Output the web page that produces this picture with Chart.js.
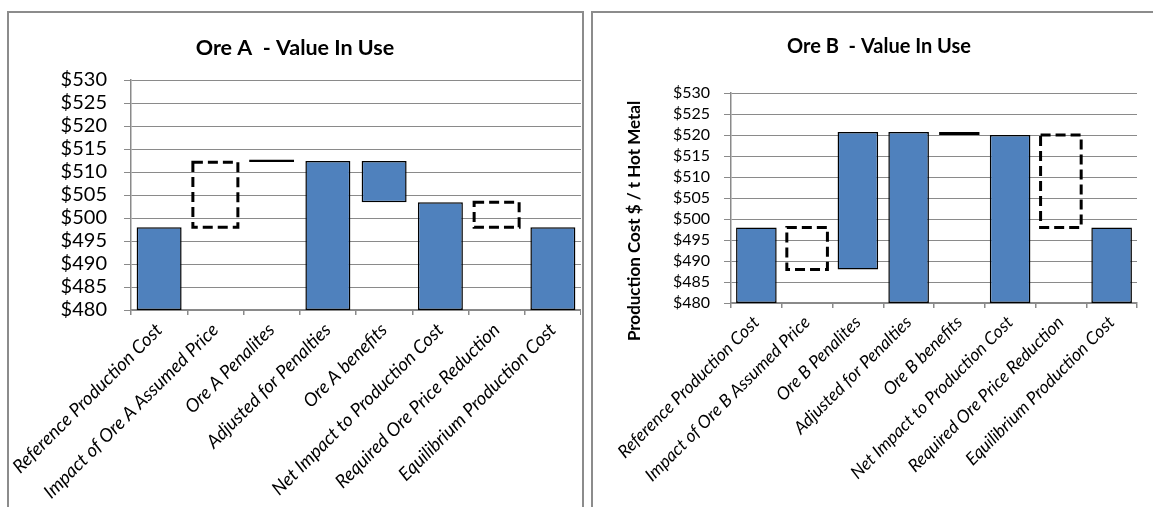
<!DOCTYPE html>
<html>
<head>
<meta charset="utf-8">
<script src="https://cdn.jsdelivr.net/npm/chart.js@4.4.1/dist/chart.umd.min.js"></script>
<style>
  html, body { margin:0; padding:0; background:#fff; overflow:hidden; }
  body { width:1153px; height:507px; position:relative; font-family:Lato, sans-serif; }
  .panel { position:absolute; top:11px; height:520px; border:2px solid #8c8c8c; box-sizing:border-box; }
  canvas { position:absolute; top:13px; }
</style>
</head>
<body>
<div class="panel" style="left:7px;width:577px"></div>
<div class="panel" style="left:591px;width:600px"></div>
<canvas id="chart-a" width="572" height="494" style="left:9px"></canvas>
<canvas id="chart-b" width="560" height="494" style="left:593px"></canvas>
<script>
// Categories
var labelsA = ['Reference Production Cost', 'Impact of Ore A Assumed Price', 'Ore A Penalites',
  'Adjusted for Penalties', 'Ore A benefits', 'Net Impact to Production Cost',
  'Required Ore Price Reduction', 'Equilibrium Production Cost'];
var labelsB = ['Reference Production Cost', 'Impact of Ore B Assumed Price', 'Ore B Penalites',
  'Adjusted for Penalties', 'Ore B benefits', 'Net Impact to Production Cost',
  'Required Ore Price Reduction', 'Equilibrium Production Cost'];

// Floating bars [low, high] ($ / t hot metal)
var solidA  = [[480, 498], null, [512.2, 512.7], [480, 512.4], [503.4, 512.4], [480, 503.4], null, [480, 498]];
var dashedA = [null, [498, 512.1], null, null, null, null, [498, 503.4], null];
var solidB  = [[480, 498], null, [488, 520.7], [480, 520.7], [520, 520.7], [480, 520], null, [480, 498]];
var dashedB = [null, [488, 498], null, null, null, null, [498, 520], null];

// Value axis
var yMin = 480, yMax = 530, yStep = 5;

var GRID = '#8a8a8a';
var BAR  = '#4F81BD';

// bar elements fill their borders, so the dashed boxes are stroked here
var dashedBoxes = {
  id: 'dashedBoxes',
  afterDatasetsDraw: function (chart) {
    var ctx = chart.ctx;
    chart.data.datasets.forEach(function (ds, i) {
      if (!ds.dashed) return;
      chart.getDatasetMeta(i).data.forEach(function (bar, j) {
        if (!ds.data[j]) return;
        var p = bar.getProps(['x', 'y', 'base', 'width'], true);
        ctx.save();
        ctx.setLineDash([10, 5]);
        ctx.lineWidth = 3;
        ctx.strokeStyle = '#000';
        ctx.strokeRect(p.x - p.width / 2, Math.min(p.y, p.base), p.width, Math.abs(p.base - p.y));
        ctx.restore();
      });
    });
  }
};

// rotated y title, placed like the spreadsheet did it
var yTitle = {
  id: 'yTitle',
  afterDraw: function (chart, args, opts) {
    if (!opts.text) return;
    var ctx = chart.ctx;
    ctx.save();
    ctx.translate(opts.x, opts.y);
    ctx.rotate(-Math.PI / 2);
    ctx.font = 'bold 17px Lato, sans-serif';
    ctx.fillStyle = '#000';
    ctx.textAlign = 'center';
    ctx.textBaseline = 'middle';
    ctx.fillText(opts.text, 0, 0);
    ctx.restore();
  }
};

function buildChart(id, o) {
  return new Chart(document.getElementById(id), {
    type: 'bar',
    data: {
      labels: o.labels,
      datasets: [
        { data: o.solid, backgroundColor: BAR, borderColor: '#000', borderWidth: 1.5, borderSkipped: false,
          grouped: false, barPercentage: 0.8, categoryPercentage: 1 },
        { data: o.dashed, dashed: true, backgroundColor: 'rgba(0,0,0,0)', borderWidth: 0,
          grouped: false, barPercentage: 0.8, categoryPercentage: 1 }
      ]
    },
    options: {
      responsive: false,
      animation: false,
      layout: { padding: o.padding },
      plugins: {
        legend: { display: false },
        tooltip: { enabled: false },
        title: {
          display: true, text: o.title, color: '#000',
          font: { family: 'Lato, sans-serif', size: o.titleSize, weight: 'bold' },
          padding: o.titlePad
        },
        yTitle: o.yTitle || {}
      },
      scales: {
        x: {
          grid: { offset: true, drawOnChartArea: false, drawTicks: true, tickLength: 5, color: GRID, lineWidth: 1.5 },
          border: { color: GRID, width: 1.5 },
          ticks: {
            color: '#000', minRotation: 45, maxRotation: 45, autoSkip: false, padding: 4,
            font: { family: 'Lato, sans-serif', size: o.xSize, style: 'italic' }
          },
          afterFit: function (s) {
            s.height = o.xHeight;
            // long rotated labels may run under the y labels, as in the original
            s.paddingLeft = 0;
            s.paddingRight = 0;
          }
        },
        y: {
          min: yMin, max: yMax,
          grid: { color: GRID, lineWidth: 1, tickLength: 7 },
          border: { color: GRID, width: 1.5 },
          ticks: {
            stepSize: yStep, color: '#000', padding: o.yPad, autoSkip: false,
            font: { family: 'Lato, sans-serif', size: o.ySize, lineHeight: 1 },
            callback: function (v) { return '$' + v; }
          },
          afterFit: function (s) { s.width = o.yWidth; }
        }
      }
    },
    plugins: [dashedBoxes, yTitle]
  });
}

buildChart('chart-a', {
  labels: labelsA, solid: solidA, dashed: dashedA,
  title: 'Ore A  - Value In Use', titleSize: 21.5, titlePad: { top: 22.1, bottom: 19.1 },
  padding: { left: 0, right: 0, top: 0, bottom: 0 },
  xSize: 18.5, xHeight: 197, ySize: 20, yPad: 17, yWidth: 122
});

buildChart('chart-b', {
  labels: labelsB, solid: solidB, dashed: dashedB,
  title: 'Ore B  - Value In Use', titleSize: 20, titlePad: { top: 21.7, bottom: 34.3 },
  padding: { left: 28, right: 16, top: 0, bottom: 0 },
  xSize: 17.5, xHeight: 204, ySize: 16, yPad: 14, yWidth: 110,
  yTitle: { text: 'Production Cost $ / t Hot Metal', x: 42, y: 208 }
});
</script>
</body>
</html>
